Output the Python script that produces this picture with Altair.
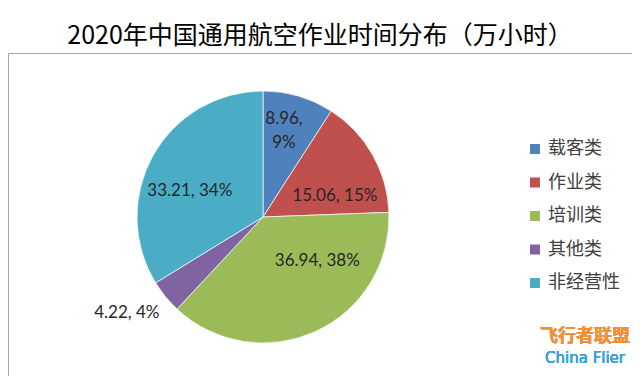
import altair as alt
import pandas as pd

categories = ["载客类", "作业类", "培训类", "其他类", "非经营性"]
hours = [8.96, 15.06, 36.94, 4.22, 33.21]
percents = [9, 15, 38, 4, 34]
colors = ["#4F81BD", "#C0504D", "#9BBB59", "#8064A2", "#4BACC6"]

labels = []
for c, v, p in zip(categories, hours, percents):
    sep = ",\n" if c == "载客类" else ", "
    labels.append(f"{v:.2f}{sep}{p}%")

df = pd.DataFrame({"cat": categories, "hours": hours, "label": labels, "idx": list(range(len(categories)))})
total = sum(hours)

CX, CY, R = 255, 164, 126

pie = alt.Chart(df).mark_arc(outerRadius=R, stroke="white", strokeWidth=0.7).encode(
    theta=alt.Theta("hours:Q", stack=True, scale=alt.Scale(domain=[0, total])),
    order=alt.Order("idx:Q"),
    x=alt.value(CX),
    y=alt.value(CY),
    color=alt.Color(
        "cat:N",
        sort=categories,
        scale=alt.Scale(domain=categories, range=colors),
        legend=alt.Legend(
            title=None, orient="none", legendX=518, legendY=87,
            symbolType="square", symbolSize=100, symbolStrokeWidth=0,
            labelFontSize=18, labelFont="Noto Sans CJK SC", labelColor="#404040",
            rowPadding=15.5, labelOffset=4,
        ),
    ),
)

# label tweaks (radius, dx, dy) per slice
tweaks = {0: (85, -3, -16), 1: (85, -2, 21), 2: (85, 19, -33), 3: (150, -20, 1), 4: (85, 1, 16)}

text_layers = []
for i, (rad, dx, dy) in tweaks.items():
    t = (
        alt.Chart(df)
        .transform_window(cum="sum(hours)", sort=[alt.SortField("idx")])
        .transform_calculate(mid="datum.cum - datum.hours / 2")
        .transform_filter(alt.datum.idx == i)
        .mark_text(radius=rad, dx=dx, dy=dy, font="Lato", fontSize=17, color="#262626", lineBreak="\n", lineHeight=24)
        .encode(
            theta=alt.Theta("mid:Q", stack=False, scale=alt.Scale(domain=[0, total])),
            x=alt.value(CX),
            y=alt.value(CY),
            text="label:N",
        )
    )
    text_layers.append(t)

wm1 = alt.Chart(df).mark_text(font="Noto Sans CJK SC", fontSize=18, fontWeight="bold", color="#F0913A").encode(
    x=alt.value(577), y=alt.value(284), text=alt.value("飞行者联盟")
)
wm2 = alt.Chart(df).mark_text(font="DejaVu Sans", fontSize=15, color="#36A3DC").encode(
    x=alt.value(577), y=alt.value(305), text=alt.value("China Flier")
)

chart = alt.layer(pie, *text_layers, wm1, wm2).properties(
    width=624, height=368,
    autosize=alt.AutoSizeParams(type="fit", contains="padding"),
    padding={"left": 0, "top": 16, "right": 0, "bottom": 0},
    title=alt.Title("2020年中国通用航空作业时间分布（万小时）", fontSize=25, font="Noto Sans CJK SC",
                    fontWeight="normal", color="black", anchor="middle", offset=4),
).configure_view(stroke="#A6A6A6", strokeWidth=1)

chart.save("out.html", embed_options={"renderer": "svg", "actions": False})
